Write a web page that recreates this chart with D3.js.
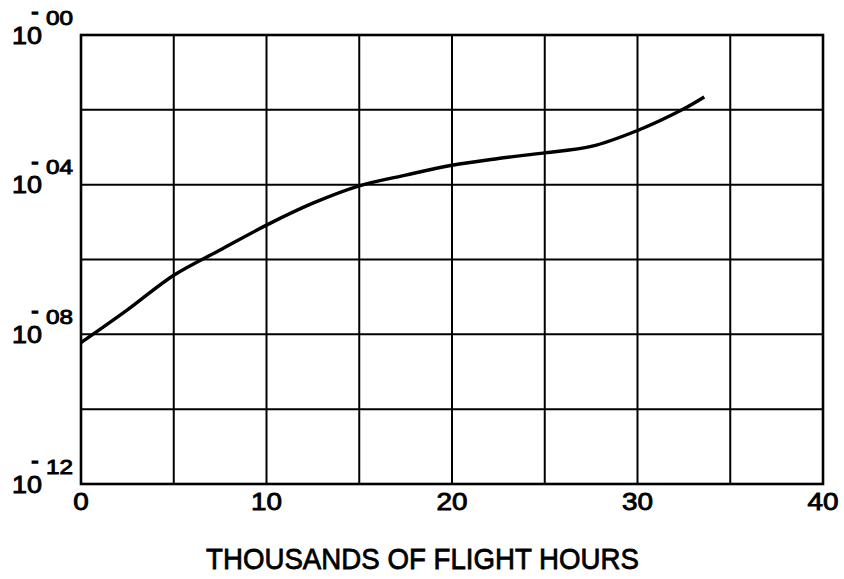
<!DOCTYPE html>
<html>
<head>
<meta charset="utf-8">
<script src="https://cdn.jsdelivr.net/npm/d3@7"></script>
<style>
  html, body { margin: 0; padding: 0; background: #fff; }
  svg { display: block; }
  text { font-family: "Liberation Sans", Arial, Helvetica, sans-serif; fill: #000; }
</style>
</head>
<body>
<svg id="chart" width="844" height="579"></svg>
<script>
// Thousands of flight hours
const hours = [0, 2.5, 5, 7.5, 10, 12.5, 15, 17.5, 20, 22.5, 25, 27.5, 30, 32.4, 33.6];
// Probability
const probability = [6.0e-9, 4.5e-8, 3.8e-7, 1.8e-6, 8.3e-6, 3.2e-5, 9.3e-5,
                     1.8e-4, 3.3e-4, 5.0e-4, 7.1e-4, 1.05e-3, 2.8e-3, 1.0e-2, 2.2e-2];

const xTicks = [0, 10, 20, 30, 40];
const xGrid = [5, 10, 15, 20, 25, 30, 35];
const yGridExp = [-2, -4, -6, -8, -10];
const yLabelExp = [0, -4, -8, -12];
const yLabelSup = ["-00", "-04", "-08", "-12"];
const xTitle = "THOUSANDS OF FLIGHT HOURS";

const svg = d3.select("#chart");
const plotLeft = 81, plotRight = 823, plotTop = 35, plotBottom = 484;

const x = d3.scaleLinear().domain([0, 40]).range([plotLeft, plotRight]);
const y = d3.scaleLog().domain([1e-12, 1]).range([plotBottom, plotTop]);

// grid
const g = svg.append("g");
g.selectAll("line.v").data(xGrid).join("line")
  .attr("x1", d => x(d)).attr("x2", d => x(d))
  .attr("y1", plotTop).attr("y2", plotBottom)
  .attr("stroke", "#000").attr("stroke-width", 2);
g.selectAll("line.h").data(yGridExp).join("line")
  .attr("x1", plotLeft).attr("x2", plotRight)
  .attr("y1", d => y(Math.pow(10, d))).attr("y2", d => y(Math.pow(10, d)))
  .attr("stroke", "#000").attr("stroke-width", 2);

// frame
svg.append("rect")
  .attr("x", plotLeft).attr("y", plotTop)
  .attr("width", plotRight - plotLeft).attr("height", plotBottom - plotTop)
  .attr("fill", "none").attr("stroke", "#000").attr("stroke-width", 2.6);

// curve
const line = d3.line()
  .x((d, i) => x(hours[i]))
  .y(d => y(d))
  .curve(d3.curveCatmullRom.alpha(0.5));
svg.append("path")
  .datum(probability)
  .attr("d", line)
  .attr("fill", "none")
  .attr("stroke", "#000")
  .attr("stroke-width", 3.4)
  .attr("stroke-linecap", "butt");

// x tick labels
svg.selectAll("text.xt").data(xTicks).join("text")
  .attr("class", "xt")
  .attr("x", d => x(d))
  .attr("y", 510)
  .style("font-size", "24px")
  .attr("text-anchor", "middle")
  .attr("textLength", d => String(d).length * 15.5)
  .attr("lengthAdjust", "spacingAndGlyphs")
  .attr("stroke", "#000").attr("stroke-width", 0.9)
  .text(d => d);

// y labels: 10 with a raised exponent
const yl = svg.selectAll("g.yl").data(yLabelExp).join("g")
  .attr("class", "yl")
  .attr("transform", d => `translate(0,${y(Math.pow(10, d))})`);
yl.append("text")
  .attr("x", 12).attr("y", 8.5)
  .style("font-size", "23px")
  .attr("textLength", 30)
  .attr("lengthAdjust", "spacingAndGlyphs")
  .attr("stroke", "#000").attr("stroke-width", 0.9)
  .text("10");
yl.append("text")
  .attr("x", 46).attr("y", -10.5)
  .style("font-size", "20px")
  .attr("textLength", 27)
  .attr("lengthAdjust", "spacingAndGlyphs")
  .attr("stroke", "#000").attr("stroke-width", 0.9)
  .text((d, i) => yLabelSup[i].slice(1));
yl.append("text")
  .attr("x", 35).attr("y", -16)
  .attr("text-anchor", "middle")
  .style("font-size", "22px")
  .attr("stroke", "#000").attr("stroke-width", 1.3)
  .text((d, i) => yLabelSup[i].slice(0, 1));

// axis title
svg.append("text")
  .attr("x", 206).attr("y", 569)
  .style("font-size", "30px")
  .attr("textLength", 433)
  .attr("lengthAdjust", "spacingAndGlyphs")
  .attr("stroke", "#000").attr("stroke-width", 0.8)
  .text(xTitle);
</script>
</body>
</html>
